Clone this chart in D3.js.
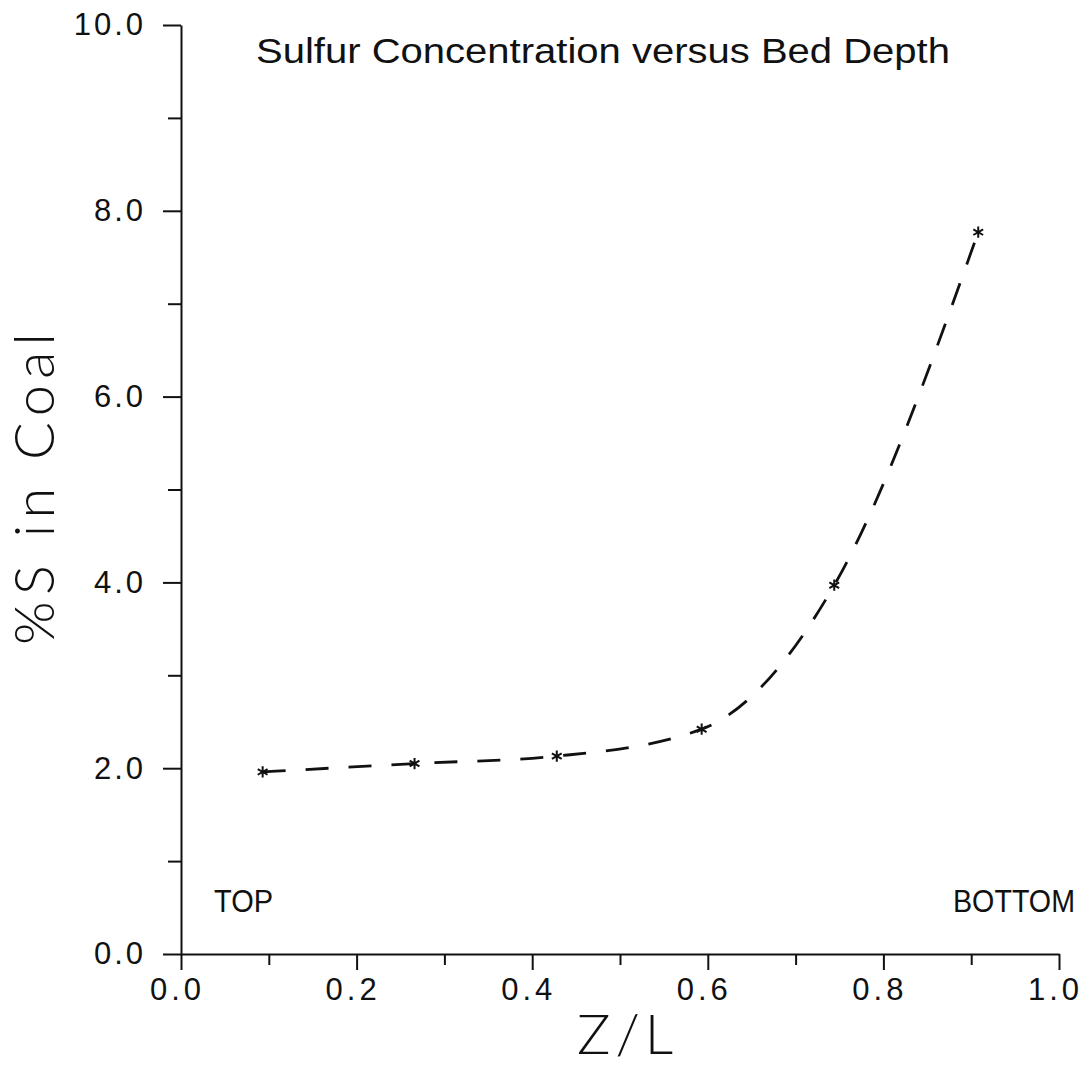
<!DOCTYPE html>
<html>
<head>
<meta charset="utf-8">
<script src="https://cdn.jsdelivr.net/npm/d3@7"></script>
<style>
  html, body { margin: 0; padding: 0; background: #fff; }
  svg { display: block; }
  text { font-family: "Liberation Sans", Arial, sans-serif; font-weight: 400; fill: #111;
         font-variant-ligatures: none; font-feature-settings: "liga" 0; }
</style>
</head>
<body>
<svg id="chart" width="1087" height="1072"></svg>
<script>
// ---- data ----
const zOverL = [0.093, 0.266, 0.428, 0.593, 0.744, 0.908];
const sulfurPct = [1.96, 2.05, 2.13, 2.42, 3.97, 7.77];
const xMajorTicks = [0.0, 0.2, 0.4, 0.6, 0.8, 1.0];
const xMinorTicks = [0.1, 0.3, 0.5, 0.7, 0.9];
const yMajorTicks = [0, 2, 4, 6, 8, 10];
const yMinorTicks = [1, 3, 5, 7, 9];
const titleText = "Sulfur Concentration versus Bed Depth";
const xTitle = "Z/L";
const yTitle = "%S in Coal";
const cornerLabels = ["TOP", "BOTTOM"];

(function () {
const svg = d3.select("#chart");
const mLeft = 181, mRight = 1059, mTop = 25, mBottom = 954;
const x = d3.scaleLinear().domain([0, 1]).range([mLeft, mRight]);
const y = d3.scaleLinear().domain([0, 10]).range([mBottom, mTop]);
const FONT = '"Liberation Sans",Arial,sans-serif';
const THIN = '"Lato","Liberation Sans",sans-serif';

function styleAxis(g) {
  g.selectAll("path, line").attr("stroke", "#111").attr("stroke-width", 2);
}

// minor ticks
svg.append("g").attr("transform", `translate(0,${mBottom})`)
  .call(d3.axisBottom(x).tickValues(xMinorTicks).tickSize(11).tickFormat(""))
  .call(g => g.select(".domain").remove()).call(styleAxis);
svg.append("g").attr("transform", `translate(${mLeft},0)`)
  .call(d3.axisLeft(y).tickValues(yMinorTicks).tickSize(13).tickFormat(""))
  .call(g => g.select(".domain").remove()).call(styleAxis);

// major ticks + labels
const xAx = svg.append("g").attr("transform", `translate(0,${mBottom})`)
  .call(d3.axisBottom(x).tickValues(xMajorTicks).tickSize(16).tickSizeOuter(0).tickPadding(8).tickFormat(d3.format(".1f")))
  .call(styleAxis);
xAx.selectAll("text").attr("font-size", 31).attr("letter-spacing", 4).attr("dx", -4)
  .style("font-family", FONT).style("font-weight", 400).attr("fill", "#111");

const yAx = svg.append("g").attr("transform", `translate(${mLeft},0)`)
  .call(d3.axisLeft(y).tickValues(yMajorTicks).tickSize(18).tickSizeOuter(0).tickPadding(17).tickFormat(d3.format(".1f")))
  .call(styleAxis);
yAx.selectAll("text").attr("font-size", 31).attr("letter-spacing", 3)
  .style("font-family", FONT).style("font-weight", 400).attr("fill", "#111");

// title
svg.append("text").attr("x", 256).attr("y", 63).attr("font-size", 35)
  .attr("textLength", 694).attr("lengthAdjust", "spacingAndGlyphs").text(titleText);

// axis titles
svg.append("text").attr("x", 625).attr("y", 1054).attr("text-anchor", "middle")
  .attr("font-size", 56).style("font-family", THIN).style("font-weight", 300)
  .attr("textLength", 96).attr("lengthAdjust", "spacing").text(xTitle);
svg.append("text").attr("transform", "translate(54,489) rotate(-90)").attr("text-anchor", "middle")
  .attr("font-size", 56).style("font-family", THIN).style("font-weight", 300)
  .attr("textLength", 312).attr("lengthAdjust", "spacing").text(yTitle);

// corner labels
svg.append("text").attr("x", 214).attr("y", 912).attr("font-size", 32)
  .attr("textLength", 59).attr("lengthAdjust", "spacingAndGlyphs").text(cornerLabels[0]);
svg.append("text").attr("x", 1075).attr("y", 912).attr("text-anchor", "end").attr("font-size", 31)
  .attr("textLength", 122).attr("lengthAdjust", "spacingAndGlyphs").text(cornerLabels[1]);

// data curve
const pts = zOverL.map((v, i) => [v, sulfurPct[i]]);
const line = d3.line().x(d => x(d[0])).y(d => y(d[1])).curve(d3.curveMonotoneX);
svg.append("path").datum(pts).attr("d", line)
  .attr("fill", "none").attr("stroke", "#111").attr("stroke-width", 2.8)
  .attr("stroke-dasharray", "23 20");

// asterisk markers
const sym = d3.symbol().type(d3.symbolAsterisk || d3.symbolCross).size(90);
svg.append("g").selectAll("path").data(pts).join("path")
  .attr("transform", d => `translate(${x(d[0])},${y(d[1])})`)
  .attr("d", sym).attr("fill", "none").attr("stroke", "#111").attr("stroke-width", 2);
})();
</script>
</body>
</html>
